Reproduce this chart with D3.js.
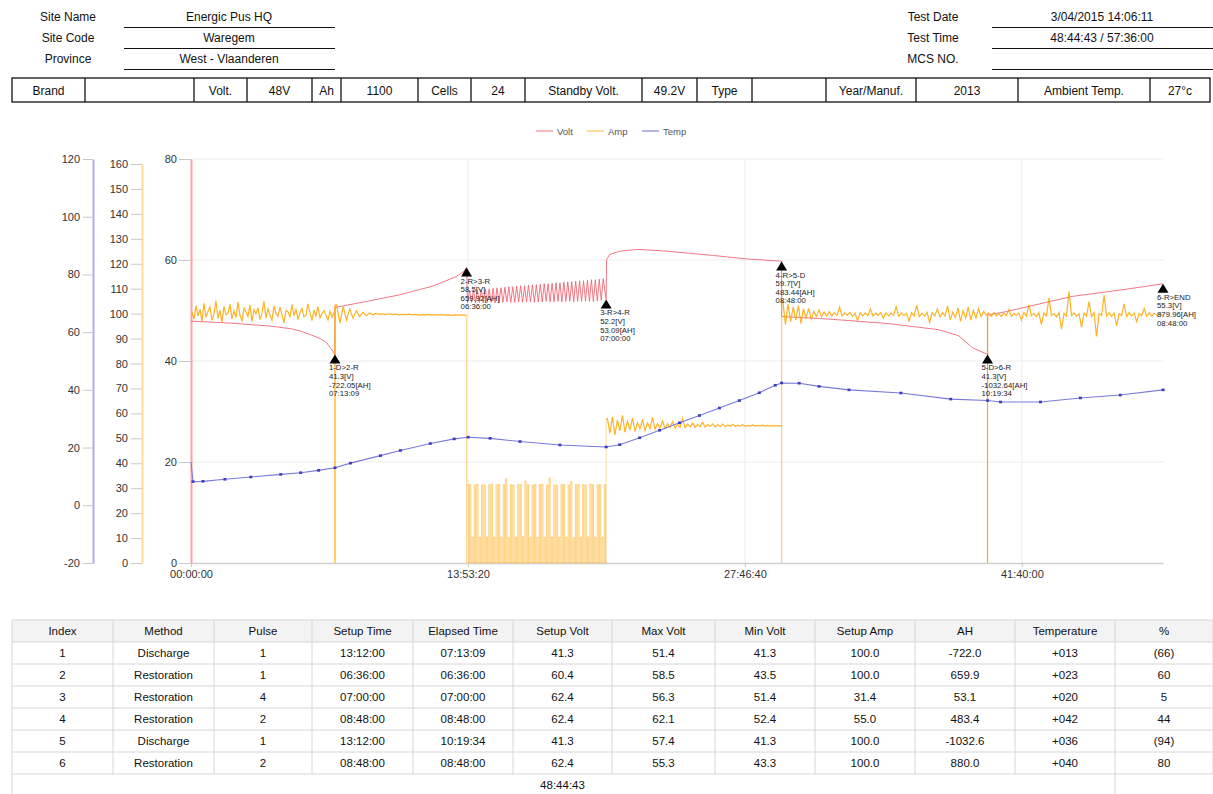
<!DOCTYPE html>
<html><head><meta charset="utf-8">
<script src="https://cdn.jsdelivr.net/npm/d3@7"></script>
<style>
body{margin:0;background:#fff;font-family:"Liberation Sans",Arial,Helvetica,sans-serif;}
svg text{font-family:"Liberation Sans",Arial,Helvetica,sans-serif;}
</style></head><body>
<svg id="c" width="1213" height="794"></svg>
<script>
// ---------------- DATA ----------------
const headerLeft = [["Site Name","Energic Pus HQ"],["Site Code","Waregem"],["Province","West - Vlaanderen"]];
const headerRight = [["Test Date","3/04/2015 14:06:11"],["Test Time","48:44:43 / 57:36:00"],["MCS NO.",""]];
const infoCells = ["Brand","","Volt.","48V","Ah","1100","Cells","24","Standby Volt.","49.2V","Type","","Year/Manuf.","2013","Ambient Temp.","27°c"];

const legendNames = ["Volt","Amp","Temp"];

const tblHeaders = ["Index","Method","Pulse","Setup Time","Elapsed Time","Setup Volt","Max Volt","Min Volt","Setup Amp","AH","Temperature","%"];
const stepIndex = ["1","2","3","4","5","6"];
const stepMethod = ["Discharge","Restoration","Restoration","Restoration","Discharge","Restoration"];
const stepPulse = ["1","1","4","2","1","2"];
const stepSetupTime = ["13:12:00","06:36:00","07:00:00","08:48:00","13:12:00","08:48:00"];
const stepElapsed = ["07:13:09","06:36:00","07:00:00","08:48:00","10:19:34","08:48:00"];
const stepSetupVolt = ["41.3","60.4","62.4","62.4","41.3","62.4"];
const stepMaxVolt = ["51.4","58.5","56.3","62.1","57.4","55.3"];
const stepMinVolt = ["41.3","43.5","51.4","52.4","41.3","43.3"];
const stepSetupAmp = ["100.0","100.0","31.4","55.0","100.0","100.0"];
const stepAH = ["-722.0","659.9","53.1","483.4","-1032.6","880.0"];
const stepTemp = ["+013","+023","+020","+042","+036","+040"];
const stepPct = ["(66)","60","5","44","(94)","80"];
const totalTime = "48:44:43";

const markerNames = ["1-D>2-R","2-R>3-R","3-R>4-R","4-R>5-D","5-D>6-R","6-R>END"];
const markerVolts = [41.3,58.5,52.2,59.7,41.3,55.3];
const markerAH = ["-722.05","659.92","53.09","483.44","-1032.64","879.96"];

const xTicks = [0,50000,100000,150000];
const voltTicks = [0,20,40,60,80];
const ampTicks = [0,10,20,30,40,50,60,70,80,90,100,110,120,130,140,150,160];
const tempTicks = [-20,0,20,40,60,80,100,120];

// Volt: [hours, V]
const voltSeg1 = [[0,47.9],[1,47.7],[2,47.5],[3,47.2],[4,46.9],[5,46.4],[5.5,45.9],[6,45.2],[6.5,44.4],[6.8,43.6],[7.0,42.6],[7.22,41.3]];
const voltSeg2 = [[7.22,50.6],[8.8,51.8],[10.46,53.1],[12.1,54.8],[13.3,56.7],[13.7,57.8],[13.82,58.5]];
const voltSeg3Troughs = [51.5,51.6,51.5,51.6,51.5,51.6,51.6,51.5,51.6,51.6,51.7,51.6,51.6,51.7,51.6,51.7,51.7,51.6,51.7,51.7,51.8,51.7,51.7,51.8,51.7,51.8,51.8,51.7,51.8,51.8,51.9,51.8,51.8,51.9,52.0];
const voltSeg3Peaks = [54.0,54.1,54.1,54.2,54.3,54.3,54.4,54.5,54.5,54.6,54.7,54.7,54.8,54.9,54.9,55.0,55.1,55.1,55.2,55.3,55.3,55.4,55.5,55.5,55.6,55.7,55.7,55.8,55.9,55.9,56.0,56.1,56.1,56.2,56.3];
const voltSeg4 = [[20.84,60.1],[21.0,61.1],[21.5,61.75],[22.4,62.1],[23.7,61.8],[26.2,60.9],[27.9,60.2],[29.5,59.8],[29.62,59.7]];
const voltSeg5 = [[29.62,48.8],[32.0,48.3],[35.0,47.4],[37.5,46.2],[38.5,45.0],[39.2,42.6],[39.95,41.3]];
const voltSeg6 = [[39.95,49.1],[40.9,49.8],[44.2,52.8],[46.7,54.1],[48.75,55.3]];

// Amp: sampled values, evenly spaced within each step
const ampSeg1 = [100.5,97.8,103.2,99.1,101.8,96.9,104.1,98.6,100.9,102.7,97.3,99.8,105.2,98.1,101.4,96.5,102.9,99.6,100.2,103.8,97.9,101.1,98.4,104.6,99.3,97.1,102.2,100.7,98.8,103.5,96.8,101.6,99.9,102.4,97.6,100.3,104.9,98.2,101.9,99.4,97.4,103.1,100.1,98.9,102.6,99.7,96.3,101.3,100.8,98.5,103.6,99.2,101.7,97.7,100.4,102.1,98.7,99.5,103.9,100.6,97.2,101.5,99.0,102.8,98.3,100.0,101.2,99.3,97.5,100.9,98.6,100.2];
const ampSeg2 = [103.5,96.2,102.8,97.4,101.9,98.1,101.2,98.8,100.6,99.2,100.3,99.5,100.1,99.7,99.9,99.6,100.0,99.6,99.8,99.5,99.7,99.6,99.8,99.5,99.7,99.4,99.6,99.5,99.7,99.4,99.6,99.5,99.6,99.4,99.5,99.3,99.5,99.4,99.5,99.4];
const ampSeg3 = [31.4,0,31.5,0,10.4,0,31.3,0,31.6,0,10.3,0,31.4,0,31.2,0,10.5,0,31.4,0,31.7,0,10.4,0,31.3,0,31.5,0,10.4,0,31.4,0,33.8,0,10.2,0,31.4,0,31.3,0,10.4,0,31.5,0,31.4,0,10.6,0,32.9,0,31.4,0,10.4,0,31.2,0,31.5,0,10.3,0,31.4,0,31.6,0,10.4,0,31.3,0,34.1,0,10.5,0,31.4,0,31.2,0,10.4,0,31.5,0,31.4,0,10.4,0,31.3,0,32.6,0,10.2,0,31.4,0,31.5,0,10.4,0,31.4,0,31.3,0,10.5,0,31.6,0,31.4,0,10.4,0,31.3,0,31.5,0,10.4,0,31.4,0];
const ampSeg4 = [57.9,52.1,58.6,51.4,57.3,53.0,59.2,52.5,56.8,53.4,58.1,52.7,56.4,53.8,57.6,53.1,56.2,54.0,58.4,53.6,55.9,54.2,57.0,53.9,55.8,54.4,56.7,54.1,55.6,54.5,57.8,54.3,55.7,54.6,56.1,54.4,55.6,54.7,56.4,54.5,55.5,54.8,55.8,54.6,55.4,54.8,55.7,54.7,55.3,54.9,55.6,54.8,55.3,54.9,55.5,54.8,55.2,54.9,55.4,54.9,55.2,55.0,55.3,54.9,55.2,55.0,55.1,54.9,55.1,55.0];
const ampSeg5 = [104.8,95.6,103.9,96.8,102.7,97.4,103.2,96.1,101.9,98.3,102.1,97.8,100.9,98.8,101.4,98.9,100.6,99.1,100.8,99.0,100.4,99.3,102.6,99.0,100.3,99.4,100.5,98.9,100.2,97.2,100.4,99.1,100.3,99.2,101.9,99.0,100.2,99.3,100.4,98.1,100.3,99.1,100.2,99.4,102.8,98.9,100.3,99.2,100.1,97.0,100.4,99.1,103.4,98.8,100.2,99.0,100.5,96.4,100.3,99.1,101.8,98.7,100.4,99.0,103.1,97.5,100.6,98.4,102.3,96.9,101.2,98.2,102.6,97.4,101.3,98.3,102.0,98.8,100.9,99.4];
const ampSeg6 = [100.2,98.9,100.4,99.1,100.0,98.8,100.3,99.2,101.6,98.9,100.1,99.3,100.2,97.4,100.4,99.0,103.5,99.2,100.1,98.8,100.3,95.6,100.2,99.1,106.2,99.3,100.0,98.7,100.4,93.8,100.1,99.0,108.9,99.2,100.3,98.9,100.0,94.5,100.2,99.1,104.8,98.8,100.4,90.9,100.1,99.2,107.4,99.0,100.3,98.9,100.2,95.1,100.0,99.3,103.9,98.8,100.4,99.1,100.2,96.8,100.1,99.2,102.1,98.9,100.3,99.0,100.1,99.3,100.0,99.4];

// Temp: [hours, °C]
const tempPts = [[0,15.0],[0.1,8.2],[0.6,8.3],[1.7,9.0],[3.0,9.8],[4.5,10.7],[5.5,11.3],[6.4,12.1],[7.22,13.0],[8.0,14.6],[9.5,17.2],[10.5,19.0],[12.0,21.4],[13.2,23.0],[13.9,23.6],[15.0,23.2],[16.5,22.1],[18.5,20.9],[20.82,20.2],[21.5,21.0],[22.5,23.4],[23.5,26.0],[24.5,28.6],[25.5,31.1],[26.5,33.7],[27.5,36.3],[28.5,39.0],[29.3,41.6],[29.62,42.4],[30.5,42.3],[31.5,41.2],[33.0,40.0],[35.6,38.9],[38.1,36.8],[39.95,36.3],[40.6,35.8],[42.6,35.8],[44.6,37.2],[46.6,38.2],[48.75,40.0]];

// ---------------- LAYOUT ----------------
const svg = d3.select("#c");
const col = {volt:"#f0606e", amp:"#ffa500", temp:"#3c3cc0"};
const hms = s => { const h=Math.floor(s/3600), m=Math.floor((s%3600)/60), x=Math.round(s%60); return [h,m,x].map(v=>String(v).padStart(2,"0")).join(":"); };
const toSec = str => { const p=str.split(":").map(Number); return p[0]*3600+p[1]*60+p[2]; };
const bounds = [0]; stepElapsed.forEach(s=>bounds.push(bounds[bounds.length-1]+toSec(s)));
const plain = d => String(d);

// header
headerLeft.forEach((r,i)=>{
  const y = 21 + i*21;
  svg.append("text").attr("x",68).attr("y",y).attr("text-anchor","middle").attr("font-size",12).attr("fill","#111").text(r[0]);
  svg.append("text").attr("x",229).attr("y",y).attr("text-anchor","middle").attr("font-size",12).attr("fill","#111").text(r[1]);
  svg.append("line").attr("x1",124).attr("x2",335).attr("y1",y+6.5).attr("y2",y+6.5).attr("stroke","#111").attr("stroke-width",1.2);
});
headerRight.forEach((r,i)=>{
  const y = 21 + i*21;
  svg.append("text").attr("x",933).attr("y",y).attr("text-anchor","middle").attr("font-size",12).attr("fill","#111").text(r[0]);
  svg.append("text").attr("x",1102).attr("y",y).attr("text-anchor","middle").attr("font-size",12).attr("fill","#111").text(r[1]);
  svg.append("line").attr("x1",992).attr("x2",1213).attr("y1",y+6.5).attr("y2",y+6.5).attr("stroke","#111").attr("stroke-width",1.2);
});
// info table
const infoEdges = [12,85,194,247,312,341,418,471,525,642,697,752,826,916,1018,1150,1210];
svg.append("rect").attr("x",12).attr("y",78).attr("width",1198).attr("height",24).attr("fill","none").attr("stroke","#111").attr("stroke-width",1.3);
infoEdges.slice(1,-1).forEach(x=>svg.append("line").attr("x1",x).attr("x2",x).attr("y1",78).attr("y2",102).attr("stroke","#111").attr("stroke-width",1.3));
infoCells.forEach((t,i)=>{
  svg.append("text").attr("x",(infoEdges[i]+infoEdges[i+1])/2).attr("y",94.5).attr("text-anchor","middle").attr("font-size",12).attr("fill","#111").text(t);
});

// legend
const legX = [536,587,642];
legendNames.forEach((n,i)=>{
  const lc = ["#f4a0a8","#ffd27a","#9a9ae0"][i];
  svg.append("line").attr("x1",legX[i]).attr("x2",legX[i]+17).attr("y1",131).attr("y2",131).attr("stroke",lc).attr("stroke-width",1.5);
  svg.append("text").attr("x",legX[i]+21).attr("y",134.5).attr("font-size",9.5).attr("fill","#555").text(n);
});

// scales
const X = d3.scaleLinear().domain([0,bounds[6]]).range([191,1163]);
const V = d3.scaleLinear().domain([0,80]).range([563,159]);
const A = d3.scaleLinear().domain([0,160]).range([563,164]);
const T = d3.scaleLinear().domain([-20,120]).range([563,159]);
const H = h => X(h*3600);

// grid
const g = svg.append("g");
voltTicks.slice(1).forEach(v=>g.append("line").attr("x1",191).attr("x2",1163).attr("y1",V(v)).attr("y2",V(v)).attr("stroke","#ececec"));
xTicks.slice(1).forEach(t=>g.append("line").attr("x1",X(t)).attr("x2",X(t)).attr("y1",159).attr("y2",563).attr("stroke","#ececec"));

// axes
function styleAxis(sel, lineCol){
  sel.selectAll(".tick line").attr("stroke","#c8c8c8");
  sel.selectAll(".tick text").attr("fill","#333").attr("font-size",11);
  sel.select(".domain").attr("stroke",lineCol).attr("stroke-width",2);
}
const ax1 = svg.append("g").attr("transform","translate(93,0)").call(d3.axisLeft(T).tickValues(tempTicks).tickFormat(plain).tickSize(10).tickSizeOuter(0).tickPadding(3));
styleAxis(ax1,"#aeaee8");
const ax2 = svg.append("g").attr("transform","translate(142,0)").call(d3.axisLeft(A).tickValues(ampTicks).tickFormat(plain).tickSize(11).tickSizeOuter(0).tickPadding(3));
styleAxis(ax2,"#ffdc9a");
const ax3 = svg.append("g").attr("transform","translate(191,0)").call(d3.axisLeft(V).tickValues(voltTicks).tickFormat(plain).tickSize(12).tickSizeOuter(0).tickPadding(2));
styleAxis(ax3,"#ffa0a8");
const axx = svg.append("g").attr("transform","translate(0,563)").call(d3.axisBottom(X).tickValues(xTicks).tickFormat(hms).tickSize(4).tickSizeOuter(0).tickPadding(3));
axx.select(".domain").attr("stroke","#d0d0d0").attr("stroke-width",1.5);
axx.selectAll(".tick line").attr("stroke","#c8c8c8");
axx.selectAll(".tick text").attr("fill","#333").attr("font-size",11);

// volt series
const seg3pts = [];
const n3 = voltSeg3Troughs.length*2;
const s3 = bounds[2]/3600, e3 = bounds[3]/3600;
voltSeg3Troughs.forEach((tv,i)=>{
  seg3pts.push([s3 + (e3-s3)*(2*i+0.5)/(n3+1), tv]);
  seg3pts.push([s3 + (e3-s3)*(2*i+1.5)/(n3+1), voltSeg3Peaks[i]]);
});
seg3pts.push([e3, markerVolts[2]]);
const voltAll = [].concat(voltSeg1, voltSeg2, seg3pts, voltSeg4, voltSeg5, voltSeg6);
const lineHV = d3.line().x(d=>H(d[0])).y(d=>V(d[1]));
svg.append("path").attr("d",lineHV(voltAll)).attr("fill","none").attr("stroke",col.volt).attr("stroke-width",1).attr("opacity",0.85);

// amp series
const ampSegs = [ampSeg1,ampSeg2,ampSeg3,ampSeg4,ampSeg5,ampSeg6];
const dropOpacity = [0.95,0.4,0.3,0.55,0.95];
ampSegs.forEach((vals,k)=>{
  const s = bounds[k], e = bounds[k+1];
  const pts = vals.map((v,i)=>[s + (e-s)*(i+0.5)/vals.length, v]);
  pts.unshift([s, vals[0]]);
  pts.push([e, vals[vals.length-1]]);
  const ln = d3.line().x(d=>X(d[0])).y(d=>A(d[1])).curve(k===2?d3.curveStepAfter:d3.curveLinear);
  svg.append("path").attr("d",ln(pts)).attr("fill","none").attr("stroke",col.amp)
    .attr("stroke-width",k===2?1:1.2).attr("opacity",k===2?0.5:0.85);
  if(k<5){
    const nextFirst = ampSegs[k+1][0];
    svg.append("line").attr("x1",X(e)).attr("x2",X(e)).attr("y1",A(0)).attr("y2",A(Math.max(vals[vals.length-1],nextFirst)))
      .attr("stroke",col.amp).attr("stroke-width",1.2).attr("opacity",dropOpacity[k]);
  }
});

// temp series
svg.append("path").attr("d",d3.line().x(d=>H(d[0])).y(d=>T(d[1]))(tempPts)).attr("fill","none").attr("stroke","#7a7ad8").attr("stroke-width",1.1);
svg.selectAll(".td").data(tempPts.slice(1)).enter().append("rect")
  .attr("x",d=>H(d[0])-1.5).attr("y",d=>T(d[1])-1.3).attr("width",3).attr("height",2.6).attr("fill",col.temp);

// markers
markerNames.forEach((nm,i)=>{
  const x = X(bounds[i+1]), y = V(markerVolts[i]);
  svg.append("path").attr("d",`M${x},${y}L${x+5.5},${y+9}L${x-5.5},${y+9}Z`).attr("fill","#000");
  const lines = [nm, markerVolts[i].toFixed(1)+"[V]", markerAH[i]+"[AH]", stepElapsed[i]];
  lines.forEach((t,j)=>svg.append("text").attr("x",x-6).attr("y",y+16+j*8.6).attr("font-size",7.8).attr("fill","#222").text(t));
});

// bottom table
const colEdges = [12,113,214,312,413,513,612,715,815,915,1015,1115,1213];
const rowTop = 620, rowH = 22;
const tb = svg.append("g");
tb.append("rect").attr("x",12).attr("y",rowTop).attr("width",1201).attr("height",rowH).attr("fill","#f3f3f3");
const cols = [stepIndex,stepMethod,stepPulse,stepSetupTime,stepElapsed,stepSetupVolt,stepMaxVolt,stepMinVolt,stepSetupAmp,stepAH,stepTemp,stepPct];
for(let r=0;r<=8;r++){
  tb.append("line").attr("x1",12).attr("x2",1213).attr("y1",rowTop+r*rowH).attr("y2",rowTop+r*rowH).attr("stroke","#d6d6d6");
}
colEdges.forEach((x,i)=>{
  const yb = (i===0||i===11) ? 794 : rowTop+7*rowH;
  tb.append("line").attr("x1",x).attr("x2",x).attr("y1",rowTop).attr("y2",yb).attr("stroke","#d6d6d6");
});
tblHeaders.forEach((h,i)=>tb.append("text").attr("x",(colEdges[i]+colEdges[i+1])/2).attr("y",rowTop+15).attr("text-anchor","middle").attr("font-size",11.5).attr("fill","#111").text(h));
cols.forEach((c,i)=>c.forEach((v,r)=>tb.append("text").attr("x",(colEdges[i]+colEdges[i+1])/2).attr("y",rowTop+(r+1)*rowH+15).attr("text-anchor","middle").attr("font-size",11.5).attr("fill","#111").text(v)));
tb.append("text").attr("x",(colEdges[5]+colEdges[6])/2).attr("y",rowTop+7*rowH+15).attr("text-anchor","middle").attr("font-size",11.5).attr("fill","#111").text(totalTime);
</script></body></html>
